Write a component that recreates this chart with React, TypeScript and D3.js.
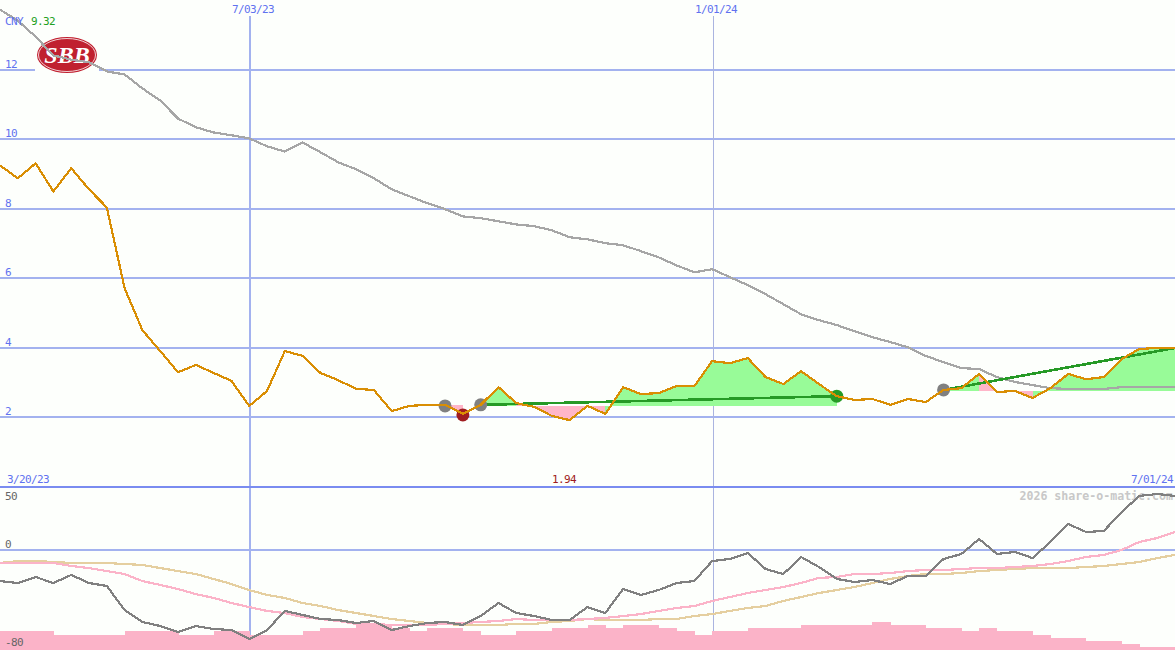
import React, { useEffect, useRef } from "react";
import * as d3 from "d3";

const priceTicks = [2, 4, 6, 8, 10, 12];
const oscTicks = [50, 0, -80];

// weekly closes, 3/27/23 .. 7/01/24
const closes = [
  9.25, 8.88, 9.31, 8.5, 9.17, 8.56, 8.04, 5.71, 4.5, 3.9, 3.29, 3.5, 3.27, 3.04, 2.32, 2.75, 3.9,
  3.76, 3.27, 3.06, 2.81, 2.78, 2.17, 2.32, 2.35, 2.35, 2.09, 2.35, 2.86, 2.4, 2.29, 2.03, 1.91,
  2.32, 2.09, 2.86, 2.66, 2.69, 2.89, 2.89, 3.61, 3.55, 3.7, 3.15, 2.95, 3.32, 2.95, 2.6, 2.49,
  2.52, 2.35, 2.52, 2.43, 2.78, 2.83, 3.24, 2.72, 2.75, 2.55, 2.83, 3.24, 3.09, 3.15, 3.67, 3.96,
  3.99, 3.99,
];

const longAverage = [
  13.74, 13.42, 12.96, 12.42, 12.3, 12.22, 11.96, 11.87, 11.47, 11.12, 10.6, 10.35, 10.2, 10.12,
  10.03, 9.8, 9.65, 9.91, 9.63, 9.34, 9.14, 8.88, 8.56, 8.36, 8.16, 7.99, 7.78, 7.73, 7.64, 7.55,
  7.5, 7.38, 7.18, 7.12, 7.01, 6.95, 6.78, 6.6, 6.37, 6.17, 6.26, 6.03, 5.8, 5.54, 5.25, 4.96, 4.79,
  4.65, 4.47, 4.3, 4.16, 4.01, 3.76, 3.58, 3.41, 3.38, 3.15, 3.01, 2.92, 2.83, 2.81, 2.81, 2.81,
  2.86, 2.86, 2.86, 2.86,
];

const oscillator = [
  -27, -28.7, -23.5, -28.7, -21.7, -28.7, -31.3, -52.2, -62.6, -66.1, -71.3, -66.1, -68.7, -69.6,
  -77.4, -69.6, -53, -56.5, -60, -60.9, -63.5, -61.7, -69.6, -66.1, -63.5, -62.6, -65.2, -57.4,
  -46.1, -54.8, -57.4, -60.9, -60.9, -49.6, -54.8, -33.9, -39.1, -34.8, -28.7, -27, -9.6, -7.8,
  -2.6, -16.5, -20.9, -6.1, -14.8, -25.2, -27.8, -26.1, -29.6, -22.6, -22.6, -7.8, -3.5, 9.6, -3.5,
  -1.7, -7, 7, 22.6, 15.7, 16.5, 33, 47, 48.7, 47,
];

const fastSignal = [
  -11.3, -11.3, -11.3, -11.3, -13.9, -15.7, -18.3, -20.9, -27, -30.4, -33.9, -38.3, -41.7, -46.1,
  -49.6, -53, -54.8, -58.3, -60, -61.7, -64.3, -64.3, -65.2, -65.2, -65.2, -64.3, -63.5, -62.6,
  -61.7, -60, -60.9, -60.9, -60.9, -60, -59.1, -57.4, -55.7, -53, -50.4, -48.7, -44.3, -40.9, -37.4,
  -34.8, -32.2, -28.7, -24.3, -23.5, -20.9, -20.9, -20, -18.3, -17.4, -17.4, -16.5, -15.7, -15.7,
  -14.8, -13.9, -12.2, -9.6, -6.1, -4.3, 0, 7, 10.4, 15.7,
];

const slowSignal = [
  -11.3, -9.6, -9.6, -10.4, -11.3, -11.3, -11.3, -12.2, -13, -15.7, -18.3, -20.9, -25.2, -29.6,
  -34.8, -39.1, -41.7, -46.1, -48.7, -52.2, -54.8, -57.4, -60, -61.7, -63.5, -64.3, -65.2, -65.2,
  -65.2, -64.3, -64.3, -62.6, -61.7, -60, -60.9, -60.9, -60.9, -60, -60, -57.4, -55.7, -53, -50.4,
  -48.7, -44.3, -40.9, -37.4, -34.8, -32.2, -28.7, -25.2, -22.6, -20.9, -20.9, -20, -18.3, -17.4,
  -16.5, -15.7, -15.7, -15.7, -14.8, -13.9, -12.2, -10.4, -7, -4.3,
];

const volume = [
  19, 19, 19, 15, 15, 15, 15, 19, 19, 19, 15, 15, 19, 19, 15, 15, 15, 19, 22, 22, 26, 26, 22, 19, 22,
  22, 19, 15, 15, 19, 19, 22, 22, 25, 22, 25, 25, 22, 19, 15, 19, 19, 22, 22, 22, 25, 25, 25, 25,
  28, 25, 25, 22, 22, 19, 22, 19, 19, 15, 12, 12, 9, 9, 6, 3, 3,
];

// holding periods: [first week, last week, base price]
const holdings: Array<[number, number, number]> = [
  [25, 26, 2.35],
  [27, 47, 2.33],
  [53, 66, 2.76],
];

// trend segments: [from week, from price, to week, to price]
const trends: Array<[number, number, number, number]> = [
  [27, 2.35, 47, 2.6],
  [53, 2.78, 66, 3.99],
];

const signalWeeks = [25, 27, 53, 26, 47];
const signalPrices = [2.32, 2.35, 2.78, 2.06, 2.6];
const signalColors = ["#808080", "#808080", "#808080", "#a01c20", "#269a26"];

const GRID = "#a3b2ef";
const LABEL = "#5f72f0";
const MONO = "'DejaVu Sans Mono', monospace";

const App: React.FC = () => {
  const svgRef = useRef<SVGSVGElement>(null);

  useEffect(() => {
    if (!svgRef.current) return;
    document.body.style.margin = "0";

    const width = 1175;
    const height = 650;
    const svg = d3.select(svgRef.current);
    svg.selectAll("*").remove();

    const x = d3.scaleLinear().domain([0, 66]).range([0, width]);
    const y = d3.scaleLinear().domain([2, 12]).range([417, 70]);
    const yOsc = d3.scaleLinear().domain([0, -80]).range([550, 642]);
    const yVol = d3.scaleLinear().domain([0, 60]).range([height, height - 60]);

    svg.append("rect").attr("width", width).attr("height", height).attr("fill", "#fdfffc");

    const addText = (tx: number, ty: number, label: string, fill: string) =>
      svg
        .append("text")
        .attr("x", tx)
        .attr("y", ty)
        .attr("fill", fill)
        .style("font-family", MONO)
        .style("font-size", "11px")
        .style("letter-spacing", "-0.62px")
        .text(label);

    // price grid
    const grid = svg
      .append("g")
      .call(d3.axisRight(y).offset(0).tickValues(priceTicks).tickSize(width).tickFormat((d) => `${d}`));
    grid.select(".domain").remove();
    grid.selectAll(".tick line").attr("stroke", GRID).attr("stroke-width", 2).style("shape-rendering", "crispEdges");
    grid
      .selectAll(".tick text")
      .attr("x", 5)
      .attr("y", -2)
      .attr("dy", 0)
      .attr("text-anchor", "start")
      .attr("fill", LABEL)
      .style("font-family", MONO)
      .style("font-size", "11px")
      .style("letter-spacing", "-0.62px");

    // oscillator zero line and panel divider
    svg.append("line").attr("x1", 0).attr("x2", width).attr("y1", yOsc(0)).attr("y2", yOsc(0))
      .attr("stroke", GRID).attr("stroke-width", 2).style("shape-rendering", "crispEdges");

    svg.append("line").attr("x1", x(14) + 0.8).attr("x2", x(14) + 0.8).attr("y1", 16).attr("y2", height)
      .attr("stroke", GRID).attr("stroke-width", 2).style("shape-rendering", "crispEdges");
    svg.append("line").attr("x1", x(40) + 1).attr("x2", x(40) + 1).attr("y1", 16).attr("y2", height)
      .attr("stroke", "#aab4e0").attr("stroke-width", 1).style("shape-rendering", "crispEdges");

    svg.append("line").attr("x1", 0).attr("x2", width).attr("y1", 487).attr("y2", 487)
      .attr("stroke", "#7a8cf0").attr("stroke-width", 2).style("shape-rendering", "crispEdges");

    // logo sits on a white patch that cuts the 12 line
    svg.append("rect").attr("x", 35).attr("y", 30).attr("width", 64).attr("height", 44).attr("fill", "#fdfffc");
    const logo = svg.append("g").attr("transform", "translate(67,55)");
    logo.append("ellipse").attr("rx", 30).attr("ry", 18).attr("fill", "#c0202f");
    logo.append("ellipse").attr("rx", 28.5).attr("ry", 16.5).attr("fill", "none").attr("stroke", "#fff").attr("stroke-width", 0.8);
    logo
      .append("text")
      .attr("y", 8)
      .attr("text-anchor", "middle")
      .attr("fill", "#fff")
      .style("font-family", "'Liberation Serif', serif")
      .style("font-style", "italic")
      .style("font-weight", "bold")
      .style("font-size", "24px")
      .text("SBB");

    // profit / loss areas, each week coloured by where it ends
    holdings.forEach(([from, to, base]) => {
      const area = d3
        .area<number>()
        .x((d) => x(d))
        .y0(y(base))
        .y1((d) => y(closes[d]));
      d3.range(from, to).forEach((week) => {
        svg
          .append("path")
          .attr("d", area([week, week + 1]))
          .attr("fill", closes[week + 1] >= base ? "#98fb98" : "#ffb6c9")
          .style("shape-rendering", "crispEdges");
      });
    });

    const priceLine = d3
      .line<number>()
      .x((_d, i) => x(i))
      .y((d) => y(d));
    const oscLine = d3
      .line<number>()
      .x((_d, i) => x(i))
      .y((d) => yOsc(d));

    const drawLine = (d: string | null, stroke: string, strokeWidth = 2) =>
      svg
        .append("path")
        .attr("d", d)
        .attr("fill", "none")
        .attr("stroke", stroke)
        .attr("stroke-width", strokeWidth)
        .style("shape-rendering", "crispEdges");

    drawLine(priceLine(longAverage), "#a6a6a6", 2.2);

    svg
      .selectAll(".trend")
      .data(trends)
      .enter()
      .append("line")
      .attr("x1", (d) => x(d[0]))
      .attr("y1", (d) => y(d[1]))
      .attr("x2", (d) => x(d[2]))
      .attr("y2", (d) => y(d[3]))
      .attr("stroke", "#269a26")
      .attr("stroke-width", 2.6)
      .style("shape-rendering", "crispEdges");

    svg
      .selectAll(".signal")
      .data(signalWeeks)
      .enter()
      .append("circle")
      .attr("cx", (d) => x(d))
      .attr("cy", (_d, i) => y(signalPrices[i]))
      .attr("r", 6.5)
      .attr("fill", (_d, i) => signalColors[i]);

    drawLine(priceLine(closes), "#d98e04", 2.2);

    // lower panel
    const barWidth = x(1) - x(0);
    svg
      .selectAll(".vol")
      .data(volume)
      .enter()
      .append("rect")
      .attr("x", (_d, i) => x(i))
      .attr("y", (d) => yVol(d))
      .attr("width", barWidth + 0.5)
      .attr("height", (d) => height - yVol(d))
      .attr("fill", "#fbb3c8")
      .style("shape-rendering", "crispEdges");

    svg
      .append("text")
      .attr("x", 1173)
      .attr("y", 500)
      .attr("text-anchor", "end")
      .attr("fill", "#c8c8c8")
      .style("font-family", MONO)
      .style("font-weight", "bold")
      .style("font-size", "11.6px")
      .text("2026 share-o-matic.com");

    drawLine(oscLine(slowSignal), "#e5cfa0", 2.2);
    drawLine(oscLine(fastSignal), "#fbb3c8", 2.2);
    drawLine(oscLine(oscillator), "#808080", 2.2);

    // labels
    addText(5, 25, "CNY", LABEL);
    addText(31, 25, "9.32", "#22a022");
    addText(232, 13, "7/03/23", LABEL);
    addText(695, 13, "1/01/24", LABEL);
    addText(7, 483, "3/20/23", LABEL);
    addText(1131, 483, "7/01/24", LABEL);
    addText(552, 483, "1.94", "#a01c20");
    const oscOffset = [7.5, -2, 4];
    oscTicks.forEach((t, i) => addText(5, yOsc(t) + oscOffset[i], `${t}`, "#666666"));
  }, []);

  return <svg ref={svgRef} width={1175} height={650} style={{ display: "block" }} />;
};

export default App;
